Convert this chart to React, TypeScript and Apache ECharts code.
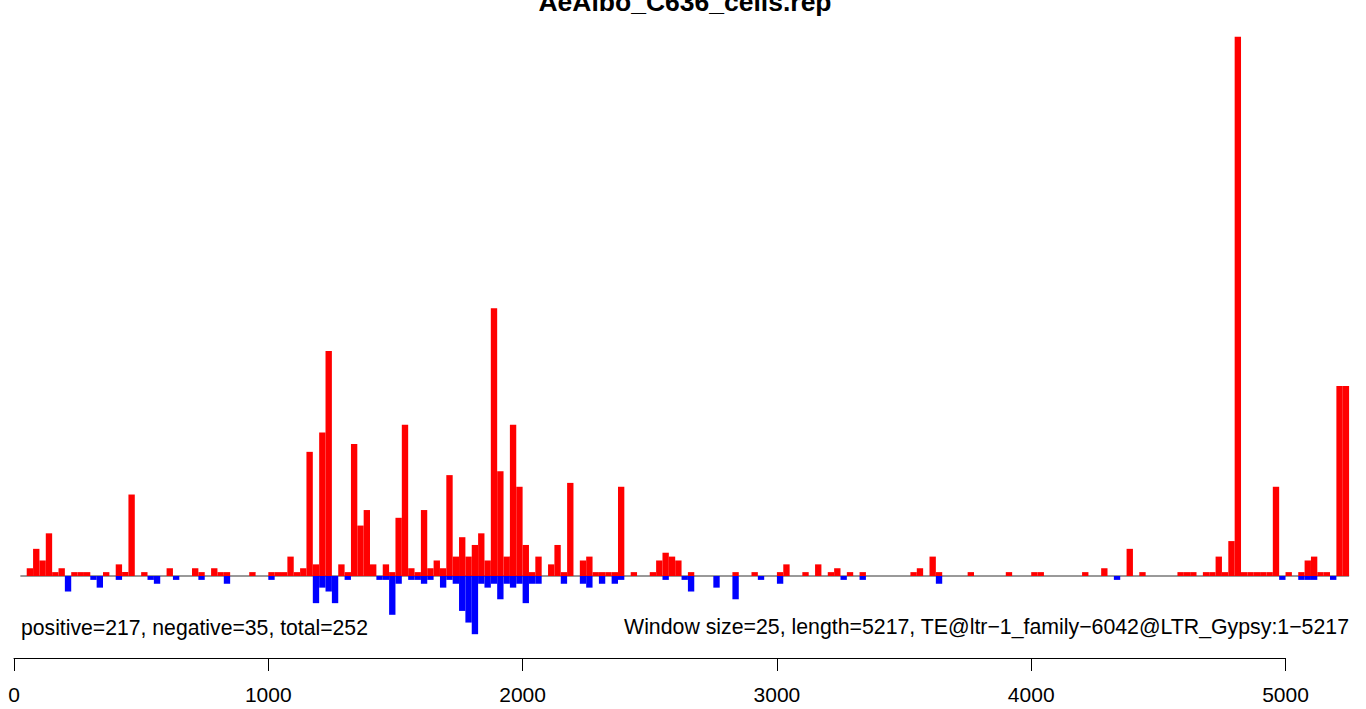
import React, { useEffect, useRef } from "react";
import * as echarts from "echarts";

const TITLE = "AeAlbo_C636_cells.rep";
const WINDOW = 25;
const TICK_MAX = 5000;
const TICK_STEP = 1000;
const LEFT_NOTE = "positive=217, negative=35, total=252";
const RIGHT_NOTE =
  "Window size=25, length=5217, TE@ltr\u22121_family\u22126042@LTR_Gypsy:1\u22125217";

// coverage per 25-bp window (window k spans k*25 .. k*25+25)
const positive = [
  0, 0, 2, 7, 4, 11, 1, 2, 0, 1,
  1, 1, 0, 0, 1, 0, 3, 1, 21, 0,
  1, 0, 0, 0, 2, 0, 0, 0, 2, 1,
  0, 2, 1, 1, 0, 0, 0, 1, 0, 0,
  1, 1, 1, 5, 1, 2, 32, 3, 37, 58,
  0, 3, 1, 34, 13, 17, 3, 0, 3, 1,
  15, 39, 2, 1, 17, 2, 4, 2, 26, 5,
  10, 5, 8, 11, 4, 69, 27, 5, 39, 23,
  8, 1, 5, 0, 3, 8, 1, 24, 0, 4,
  5, 1, 1, 1, 1, 23, 0, 1, 0, 0,
  1, 4, 6, 5, 4, 0, 1, 0, 0, 0,
  0, 0, 0, 1, 0, 0, 1, 0, 0, 0,
  1, 3, 0, 0, 1, 0, 3, 0, 1, 2,
  0, 1, 0, 1, 0, 0, 0, 0, 0, 0,
  0, 1, 2, 0, 5, 1, 0, 0, 0, 0,
  1, 0, 0, 0, 0, 0, 1, 0, 0, 0,
  1, 1, 0, 0, 0, 0, 0, 0, 1, 0,
  0, 2, 0, 0, 0, 7, 0, 1, 0, 0,
  0, 0, 0, 1, 1, 1, 0, 1, 1, 5,
  1, 9, 139, 1, 1, 1, 1, 1, 23, 0,
  1, 0, 1, 4, 5, 1, 1, 0, 49, 49,
];

const negative = [
  0, 0, 0, 0, 0, 0, 0, 0, -4, 0,
  0, 0, -1, -3, 0, 0, -1, 0, 0, 0,
  0, -1, -2, 0, 0, -1, 0, 0, 0, -1,
  0, 0, 0, -2, 0, 0, 0, 0, 0, 0,
  -1, 0, 0, 0, 0, 0, 0, -7, -3, -4,
  -7, 0, -1, 0, 0, 0, 0, -1, -1, -10,
  -2, 0, -1, -1, -2, -1, 0, -3, -1, -2,
  -9, -12, -15, -2, -3, -2, -6, -2, -3, -2,
  -7, -2, -2, 0, 0, 0, -2, 0, 0, -2,
  -3, 0, -2, 0, -2, -1, 0, 0, 0, 0,
  0, 0, -1, 0, 0, -1, -4, 0, 0, 0,
  -3, 0, 0, -6, 0, 0, 0, -1, 0, 0,
  -2, 0, 0, 0, 0, 0, 0, 0, 0, 0,
  -1, 0, 0, -1, 0, 0, 0, 0, 0, 0,
  0, 0, 0, 0, 0, -2, 0, 0, 0, 0,
  0, 0, 0, 0, 0, 0, 0, 0, 0, 0,
  0, 0, 0, 0, 0, 0, 0, 0, 0, 0,
  0, 0, 0, -1, 0, 0, 0, 0, 0, 0,
  0, 0, 0, 0, 0, 0, 0, 0, 0, 0,
  0, 0, 0, 0, 0, 0, 0, 0, 0, -1,
  0, 0, -1, -1, -1, 0, 0, -1, 0, 0,
];

const Y_MIN = -15;
const Y_MAX = 139;

const FONT = "'Liberation Sans', Arial, Helvetica, sans-serif";

function toBars(arr: number[]) {
  const out: number[][] = [];
  arr.forEach((v, i) => {
    if (v !== 0) out.push([i * WINDOW, (i + 1) * WINDOW, v]);
  });
  return out;
}

function barRenderer(color: string) {
  return (params: any, api: any) => {
    const s = api.value(0);
    const e = api.value(1);
    const v = api.value(2);
    const a = api.coord([s, 0]);
    const b = api.coord([e, v]);
    return {
      type: "rect",
      shape: {
        x: a[0],
        y: Math.min(a[1], b[1]),
        width: b[0] - a[0],
        height: Math.abs(b[1] - a[1]),
      },
      style: { fill: color },
    };
  };
}

export default function App() {
  const ref = useRef<HTMLDivElement>(null);
  useEffect(() => {
    const chart = echarts.init(ref.current!, null, { renderer: "svg" });
    const xEnd = positive.length * WINDOW;
    chart.setOption({
      animation: false,
      backgroundColor: "#ffffff",
      grid: [
        { left: 14, top: 36.7, width: 1335.1, height: 597.5 },
        { left: 14, top: 600, width: 1271.5, height: 58 },
      ],
      xAxis: [
        { type: "value", gridIndex: 0, min: 0, max: xEnd, show: false },
        {
          type: "value",
          gridIndex: 1,
          min: 0,
          max: TICK_MAX,
          interval: TICK_STEP,
          axisLine: { show: true, lineStyle: { color: "#000", width: 1 } },
          axisTick: { show: true, length: 13, lineStyle: { color: "#000", width: 1 } },
          axisLabel: {
            show: true,
            color: "#000",
            fontSize: 21,
            fontFamily: FONT,
            margin: 26,
            showMinLabel: true,
            showMaxLabel: true,
            formatter: (v: number) => String(v),
          },
          splitLine: { show: false },
        },
      ],
      yAxis: [
        { type: "value", gridIndex: 0, min: Y_MIN, max: Y_MAX, show: false },
        { type: "value", gridIndex: 1, min: 0, max: 1, show: false },
      ],
      series: [
        {
          type: "line",
          xAxisIndex: 0,
          yAxisIndex: 0,
          data: [
            [WINDOW, 0],
            [xEnd, 0],
          ],
          symbol: "none",
          lineStyle: { color: "#777777", width: 1.3 },
          z: 1,
        },
        {
          type: "custom",
          xAxisIndex: 0,
          yAxisIndex: 0,
          data: toBars(positive),
          encode: { x: [0, 1], y: 2 },
          renderItem: barRenderer("#ff0000"),
          z: 2,
        },
        {
          type: "custom",
          xAxisIndex: 0,
          yAxisIndex: 0,
          data: toBars(negative),
          encode: { x: [0, 1], y: 2 },
          renderItem: barRenderer("#0000ff"),
          z: 2,
        },
      ],
      graphic: [
        {
          type: "text",
          x: 685,
          y: 2,
          style: {
            text: TITLE,
            fontSize: 26.5,
            fontWeight: "bold",
            fontFamily: FONT,
            fill: "#000",
            align: "center",
            verticalAlign: "middle",
          },
        },
        {
          type: "text",
          x: 21,
          y: 627,
          style: {
            text: LEFT_NOTE,
            fontSize: 21.2,
            fontFamily: FONT,
            fill: "#000",
            align: "left",
            verticalAlign: "middle",
          },
        },
        {
          type: "text",
          x: 1349,
          y: 627,
          style: {
            text: RIGHT_NOTE,
            fontSize: 21.3,
            fontFamily: FONT,
            fill: "#000",
            align: "right",
            verticalAlign: "middle",
          },
        },
      ],
    });
    return () => chart.dispose();
  }, []);
  return (
    <div
      ref={ref}
      style={{ position: "fixed", left: 0, top: 0, width: "1366px", height: "709px" }}
    />
  );
}
